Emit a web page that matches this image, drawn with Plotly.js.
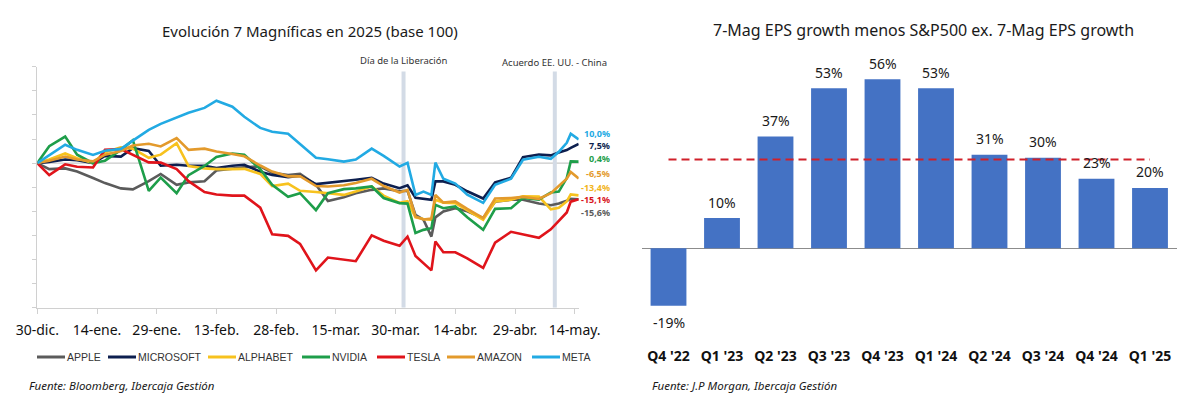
<!DOCTYPE html>
<html><head><meta charset="utf-8">
<script src="https://cdn.plot.ly/plotly-3.0.1.min.js"></script>
<style>html,body{margin:0;padding:0;background:#fff}#chart{width:1197px;height:399px}</style>
</head><body><div id="chart"></div>
<script>
// ---------- Left chart data (base 100 = 30-dic-2024) ----------
const dates = ['2024-12-30','2025-01-02','2025-01-06','2025-01-09','2025-01-13','2025-01-16','2025-01-20','2025-01-23','2025-01-27','2025-01-30',
  '2025-02-03','2025-02-06','2025-02-10','2025-02-13','2025-02-17','2025-02-20','2025-02-24','2025-02-27','2025-03-03','2025-03-06',
  '2025-03-10','2025-03-13','2025-03-17','2025-03-20','2025-03-24','2025-03-27','2025-03-31','2025-04-02','2025-04-04','2025-04-06',
  '2025-04-08','2025-04-09','2025-04-11','2025-04-14','2025-04-17','2025-04-21','2025-04-24','2025-04-28','2025-05-01','2025-05-05',
  '2025-05-08','2025-05-10','2025-05-12','2025-05-13','2025-05-15'];
const apple = [100,97.5,97.8,96.5,93.8,91.7,89.5,89.1,92.5,95.5,
  91,92,92.5,96.9,97.7,98.3,98.6,96,95,95.5,
  91,84.3,85.8,87.5,88.9,89.5,88.3,88.5,78.5,76.5,
  69.5,77.5,79.9,81.3,80,77.2,84,84.8,84.8,83.2,
  82.5,83.2,84.4,85.2,85];
const microsoft = [100,100.5,101.5,101.2,100,103,102.7,106.2,105,98.9,
  99.3,98.9,98.9,98,98.9,99.3,96.4,95.1,94.2,94.8,
  91.3,91.8,92.4,93.1,93.9,91.5,89.6,90.8,85.6,85.3,
  84.8,92.4,92.4,91,88.3,85.3,92,93.9,102.5,103.5,
  103.2,104.4,105.4,106.3,108];
const alphabet = [100,101.5,104,102,100,104.5,106.5,106,102.2,103.5,
  108.3,98.8,97.8,97.5,97.5,97.6,95.5,90.5,91.5,88.5,
  88,87.6,86.8,88.2,90.3,86.5,83.5,84.2,77.5,76.8,
  76.5,84.8,83.6,83.4,80.5,76.5,84.1,84.8,86.2,86.1,
  80.8,81.5,84.1,87,86.6];
const nvidia = [100,107,111,103.5,100,101,105.5,109.5,88.5,94,
  87.5,95,98.8,102.5,104,103.5,97.5,91,86,87.5,
  80.5,87.5,89.2,89.5,90.3,85.5,83.4,83.2,71,72.3,
  73,82.7,81.3,82,77.5,72.3,81,81.3,85.5,84.8,
  87.8,88.2,93.8,100.7,100.6];
const tesla = [100,95,99.5,98.5,98.2,105.5,105.8,103.5,100.3,100.2,
  97.5,92.5,88,87,86.5,86.5,81.5,70.5,69.8,66.5,
  55.5,60.8,60,59.3,70,67.8,65.7,69.5,61.5,58.5,
  55.5,67.5,63,63,60.5,56.5,67,71.5,70.5,69,
  72.5,76,79.5,84,85];
const amazon = [100,101,102.7,101.5,100.7,103.5,105,107.3,108,106.9,
  110.4,105.5,106,104.8,103.8,102.8,99,96.5,94.5,94.6,
  90.5,90.3,90.8,91.7,93.5,90.5,87.8,88.9,77.8,76.6,
  77,86.8,83.6,84.1,81,77.2,85.3,85.5,86,85.1,
  87.5,90.3,93.5,96.3,93.6];
const meta = [100,103.4,107.6,105.5,103.4,105.1,105.9,109.3,113.8,116.3,
  118.8,120.9,122.9,125.9,123.4,119.2,114.6,113,112.2,108,
  102.2,101.6,100.6,101.5,106,103,98.6,100.1,86.8,88.2,
  86.8,100.2,93.5,91.5,86.9,83.5,91,93.5,101.4,102.6,
  101.8,104.7,108.4,112.2,109.8];
const seriesNames = ['APPLE','MICROSOFT','ALPHABET','NVIDIA','TESLA','AMAZON','META'];
const endLabels = ['10,0%','7,5%','0,4%','-6,5%','-13,4%','-15,1%','-15,6%'];
const tickDates = ['2024-12-30','2025-01-14','2025-01-29','2025-02-13','2025-02-28','2025-03-15','2025-03-30','2025-04-14','2025-04-29','2025-05-14'];
const tickLabels = ['30-dic.','14-ene.','29-ene.','13-feb.','28-feb.','15-mar.','30-mar.','14-abr.','29-abr.','14-may.'];
const eventDates = ['2025-04-01','2025-05-09'];
const eventNames = ['Día de la Liberación','Acuerdo EE. UU. - China'];

// ---------- Right chart data ----------
const quarters = ["Q4 '22","Q1 '23","Q2 '23","Q3 '23","Q4 '23","Q1 '24","Q2 '24","Q3 '24","Q4 '24","Q1 '25"];
const epsDiff = [-19,10,37,53,56,53,31,30,23,20];

// ---------- styles / layout positions ----------
const seriesColors = ['#5b5b5b','#0d1f4f','#f7c21e','#1e9e4a','#e0141b','#e39a2c','#22aae3'];
const endLabelColors = ['#22aae3','#0d1f4f','#1e9e4a','#e39a2c','#f2b51c','#d8141b','#5b5b5b'];
const endLabelY = [112.2,107.1,101.9,95.6,90.0,84.8,79.5];
const eventLabelY = [0.8496,0.8446];
const legendX0 = [37,108,208,302,377,447,532];   // pixel start of each legend swatch
const legendY = 357;

const allSeries = [apple, microsoft, alphabet, nvidia, tesla, amazon, meta];
const traces = allSeries.map((vals, i) => ({
  type: 'scatter', mode: 'lines', x: dates, y: vals, name: seriesNames[i],
  line: {color: seriesColors[i], width: 2.6}, xaxis: 'x', yaxis: 'y', showlegend: false
}));
traces.push({
  type: 'bar', x: quarters, y: epsDiff, xaxis: 'x2', yaxis: 'y2', showlegend: false,
  marker: {color: '#4472c4'}, hoverinfo: 'x+y'
});

const avg = epsDiff.reduce((a, b) => a + b, 0) / epsDiff.length;
const W = 1197, H = 399;
const px = v => v / W, py = v => (H - v) / H;

const annotations = [];
annotations.push({xref:'paper', yref:'paper', x: px(310), y: py(31), text: 'Evolución 7 Magníficas en 2025 (base 100)',
  showarrow:false, font:{family:'Noto Sans', size:15, color:'#1a1a1a'}, xanchor:'center', yanchor:'middle'});
annotations.push({xref:'paper', yref:'paper', x: px(923.5), y: py(30), text: '7-Mag EPS growth menos S&P500 ex. 7-Mag EPS growth',
  showarrow:false, font:{family:'Noto Sans', size:16, color:'#1a1a1a'}, xanchor:'center', yanchor:'middle'});
eventDates.forEach((d, i) => annotations.push({xref:'x', yref:'paper', x: d, y: eventLabelY[i], text: eventNames[i],
  showarrow:false, font:{family:'Noto Sans', size:9.5, color:'#333'}, xanchor:'center', yanchor:'middle'}));
endLabels.forEach((t, i) => annotations.push({xref:'paper', yref:'y', x: px(611), y: endLabelY[i], text: '<b>' + t + '</b>',
  showarrow:false, font:{family:'Noto Sans', size:9, color: endLabelColors[i]}, xanchor:'right', yanchor:'middle',
  borderpad: 0}));
epsDiff.forEach((v, i) => annotations.push({xref:'x2', yref:'y2', x: quarters[i], y: v, text: v + '%',
  showarrow:false, yshift: v >= 0 ? 16 : -17, font:{family:'Noto Sans', size:14, color:'#1a1a1a'}, xanchor:'center', yanchor:'middle'}));
annotations.push({xref:'paper', yref:'paper', x: px(27), y: py(385), text: '<i>Fuente: Bloomberg, Ibercaja Gestión</i>',
  showarrow:false, font:{family:'Noto Sans', size:11.5, color:'#1a1a1a'}, xanchor:'left', yanchor:'middle'});
annotations.push({xref:'paper', yref:'paper', x: px(650), y: py(385), text: '<i>Fuente: J.P Morgan, Ibercaja Gestión</i>',
  showarrow:false, font:{family:'Noto Sans', size:11.5, color:'#1a1a1a'}, xanchor:'left', yanchor:'middle'});

const shapes = [];
// legend (drawn as swatches + labels)
seriesNames.forEach((n, i) => {
  shapes.push({type:'line', xref:'paper', yref:'paper', x0: px(legendX0[i]), x1: px(legendX0[i] + 28),
    y0: py(legendY), y1: py(legendY), line:{color: seriesColors[i], width: 3}});
  annotations.push({xref:'paper', yref:'paper', x: px(legendX0[i] + 29), y: py(legendY), text: n, showarrow:false,
    xanchor:'left', yanchor:'middle', borderpad:0, font:{family:'Liberation Sans', size:10.5, color:'#333'}});
});
eventDates.forEach(d => shapes.push({type:'line', xref:'x', yref:'y', x0:d, x1:d, y0:40, y1:138,
  line:{color:'#d3dbe6', width:4}, layer:'below'}));
shapes.push({type:'line', xref:'x domain', yref:'y', x0:0, x1:1, y0:100, y1:100, line:{color:'#c9c9c9', width:1.2}, layer:'below'});
shapes.push({type:'line', xref:'x2', yref:'y2', x0:0, x1:9, y0:avg, y1:avg, line:{color:'#d0202a', width:2, dash:'8px,5px'}, layer:'above'});

const layout = {
  width: W, height: H, margin: {l:0, r:0, t:0, b:0}, paper_bgcolor:'#fff', plot_bgcolor:'#fff',
  showlegend: false,
  xaxis: {domain:[px(37.3), px(578.7)], type:'date', range:['2024-12-30','2025-05-15'],
    tickvals: tickDates, ticktext: tickLabels, showgrid:false, zeroline:false,
    showline:true, linecolor:'#d0d0d0', linewidth:1, ticks:'outside', ticklen:5, tickcolor:'#d0d0d0',
    tickfont:{family:'Noto Sans', size:14, color:'#111'}, ticklabelstandoff:4, fixedrange:true, anchor:'y'},
  yaxis: {domain:[py(307.7), py(66.7)], range:[40,140], dtick:10, tick0:40, showticklabels:false,
    showgrid:false, zeroline:false, showline:true, linecolor:'#d0d0d0', linewidth:1,
    ticks:'outside', ticklen:4, tickcolor:'#d0d0d0', fixedrange:true, anchor:'x'},
  xaxis2: {domain:[px(641.75), px(1176.75)], type:'category', range:[-0.5, 9.5], showgrid:false, zeroline:false,
    showline:false, ticks:'', tickfont:{family:'Noto Sans', size:14, color:'#111', weight:'bold'},
    ticklabelstandoff:6, anchor:'y2', fixedrange:true},
  yaxis2: {domain:[py(340), py(60)], range:[-30.36, 62.35], showgrid:false, showticklabels:false, ticks:'',
    showline:false, zeroline:true, zerolinecolor:'#8c8c8c', zerolinewidth:1.2, anchor:'x2', fixedrange:true},
  bargap: 0.33,
  annotations: annotations, shapes: shapes
};

Plotly.newPlot('chart', traces, layout, {displayModeBar:false, staticPlot:true});
</script>
</body></html>
